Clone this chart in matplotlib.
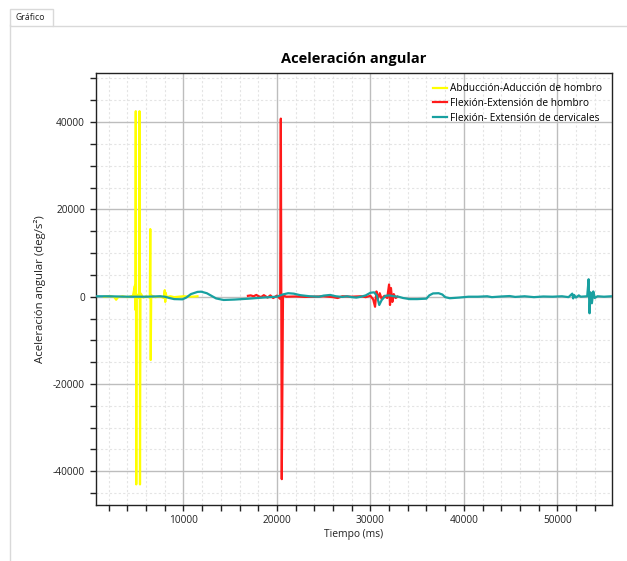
import matplotlib
matplotlib.use("Agg")
import matplotlib.pyplot as plt
from matplotlib.ticker import MultipleLocator
from matplotlib.patches import Rectangle
from matplotlib.lines import Line2D

plt.rcParams['font.family'] = ['Open Sans', 'DejaVu Sans']
plt.rcParams['axes.unicode_minus'] = False

# Abducción-Aducción de hombro
abd_t = [1500, 2200, 2600, 2800, 3000, 3500, 4000, 4600, 4800, 4850, 4900, 4950, 5000,
         5250, 5300, 5350, 5400, 5700, 6000, 6400, 6450, 6500, 6550, 7000, 7500, 7900,
         8000, 8050, 8100, 8200, 8600, 9000, 10000, 11000, 11500]
abd_v = [0, 150, -100, -700, -100, 100, -100, 200, 2500, -3000, 42500, -43000, 500,
         -300, 42500, -43000, 800, -200, 100, -200, 15500, -14500, 300, -100, 100, -300,
         1500, -1200, 900, -100, 100, -100, 100, 0, 100]

# Flexión-Extensión de hombro
flex_t = [16900, 17200, 17500, 17800, 18000, 18300, 18600, 19000, 19300, 19600, 20000,
          20350, 20420, 20520, 20650, 21000, 22000, 23000, 24000, 25000, 26000, 26500,
          27000, 28000, 29000, 29500, 30000, 30300, 30500, 30650, 30800, 31000, 31200,
          31500, 31800, 32000, 32100, 32200, 32350, 32500, 32700, 32900]
flex_v = [200, 300, 100, 400, 150, -100, 350, -200, 300, -300, 250,
          -500, 40800, -41800, 300, 0, 50, -50, 0, 100, -100, -300,
          100, 0, 100, -100, 200, -600, -2300, 1200, -400, 800, -500,
          200, -300, 2800, -1900, 2000, -1200, 600, -300, 0]

# Flexión- Extensión de cervicales
cerv_t = [0, 2000, 4000, 6000, 7500, 8000, 8500, 9000, 9900, 10300, 10800, 11500, 11900,
          12500, 13000, 13500, 14300, 15500, 17000, 18500, 20000, 20600, 21200, 21800,
          22500, 23500, 24500, 25000, 25700, 26300, 27000, 27500, 28000, 28500, 29000,
          29500, 30000, 30400, 30700, 30950, 31200, 31600, 32000, 32500, 33000, 33500,
          34200, 35000, 36000, 36300, 36700, 37300, 37700, 38000, 38500, 39500, 40500,
          41500, 42500, 43000, 44000, 44900, 45500, 46500, 47500, 48500, 49500, 50500,
          51200, 51600, 51700, 51800, 52000, 52300, 52500, 53200, 53350, 53450, 53550,
          53700, 53850, 54000, 54300, 55000, 55800]
cerv_v = [100, 100, 0, 0, 100, 0, -300, -550, -600, -200, 600, 1100, 1150,
          800, 200, -400, -750, -650, -450, -200, 0, 500, 800, 700,
          350, 100, 0, 250, 400, 100, -50, 100, -100, -200, 0,
          300, 900, 1000, 200, -1900, -800, 200, 300, 100, 0, -300,
          -550, -550, -450, 300, 750, 800, 500, -100, -350, -200, 0,
          0, 100, -100, 50, 150, -50, 100, -100, 50, 0, 100,
          -100, 700, -400, 400, -200, 300, 0, 100, 4000, -3800, 1000,
          -1500, 1200, -300, 100, 0, 100]

fig = plt.figure(figsize=(6.27, 5.61), dpi=100)

# window tab frame
frame_col = '#d9d9d9'
fig.add_artist(Line2D([10 / 627, 10 / 627], [0, 1 - 25 / 561], color=frame_col, lw=1))
fig.add_artist(Line2D([53 / 627, 1], [1 - 25.5 / 561, 1 - 25.5 / 561], color=frame_col, lw=1))
fig.add_artist(Rectangle((10 / 627, 1 - 25.5 / 561), 43 / 627, 17 / 561,
                         facecolor='white', edgecolor=frame_col, lw=1))
fig.text(15 / 627, 1 - 17 / 561, 'Gráfico', fontsize=6.3, va='center', ha='left', color='#222222')

ax = fig.add_axes([95.5 / 627, 1 - 505 / 561, (611.7 - 95.5) / 627, (505 - 73.3) / 561])

ax.plot(abd_t, abd_v, color='#ffff00', lw=1.6, label='Abducción-Aducción de hombro', zorder=3)
ax.plot(flex_t, flex_v, color='#ff1a1a', lw=1.6, label='Flexión-Extensión de hombro', zorder=4)
ax.plot(cerv_t, cerv_v, color='#18a0a0', lw=1.6, label='Flexión- Extensión de cervicales', zorder=5)

ax.set_xlim(590, 55820)
ax.set_ylim(-47720, 51180)
ax.xaxis.set_major_locator(MultipleLocator(10000))
ax.xaxis.set_minor_locator(MultipleLocator(2000))
ax.yaxis.set_major_locator(MultipleLocator(20000))
ax.yaxis.set_minor_locator(MultipleLocator(5000))

ax.grid(which='major', color='#bdbdbd', lw=1, ls='-')
ax.grid(which='minor', color='#e4e4e4', lw=0.8, ls=(0, (2, 2)))
ax.set_axisbelow(True)

ax.tick_params(which='both', direction='out', colors='#222222', labelsize=7.3, width=1)
ax.tick_params(which='major', length=4)
ax.tick_params(which='minor', length=4)
for s in ax.spines.values():
    s.set_color('#222222')
    s.set_linewidth(1)

ax.set_title('Aceleración angular', fontsize=10.5, fontweight='bold', pad=7.5)
ax.set_xlabel('Tiempo (ms)', fontsize=7.4, color='#222222', labelpad=2)
ax.set_ylabel('Aceleración angular (deg/s²)', fontsize=8.2, color='#222222', labelpad=5)

ax.legend(loc='upper right', frameon=False, fontsize=7.3, handlelength=1.3,
          handletextpad=0.3, labelspacing=0.35, borderaxespad=0.6)

fig.savefig('out.png', dpi=100)
